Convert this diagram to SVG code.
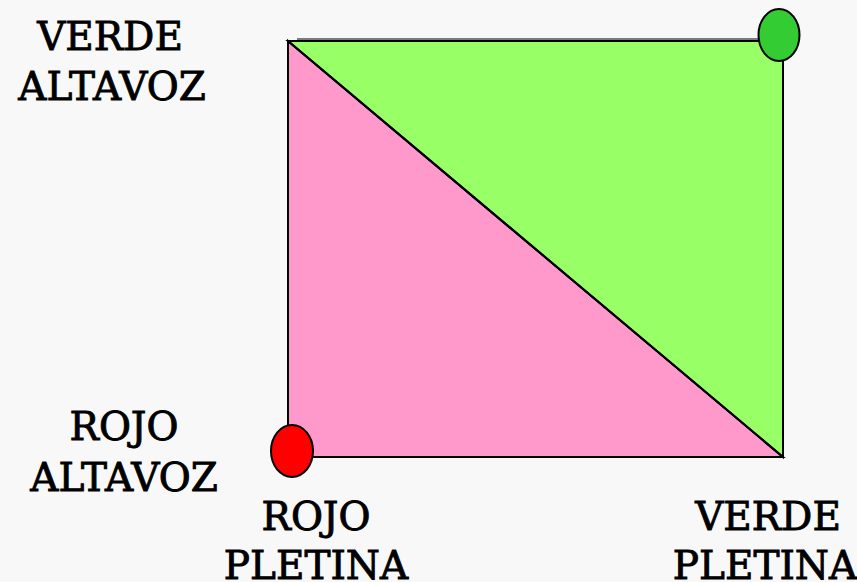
<svg xmlns="http://www.w3.org/2000/svg" width="857" height="582" viewBox="0 0 857 582">
<style>
.lbl{font-family:"DejaVu Serif","Liberation Serif",serif;font-size:39px;fill:#000;stroke:#000;stroke-width:0.9;text-anchor:middle}
.ln{stroke:#000;stroke-width:2;stroke-linejoin:miter}
</style>
<rect width="857" height="582" fill="#f8f8f8"/>
<g id="pink-triangle"><polygon class="ln" points="288,41 288,457 783,457" fill="#ff99cc"/></g>
<g id="green-triangle"><polygon class="ln" points="288,41 783,41 783,457" fill="#99ff66"/>
<line stroke="#000" stroke-width="1.2" x1="297" y1="39" x2="783" y2="39"/></g>
<g id="connectors"><line class="ln" x1="288" y1="41" x2="783" y2="457"/></g>
<g id="green-dot"><ellipse cx="779" cy="35" rx="20.5" ry="26" fill="#33cc33" class="ln"/></g>
<g id="red-dot"><ellipse cx="292" cy="451" rx="21" ry="26" fill="#ff0000" class="ln"/></g>
<g id="verde-altavoz"><text class="lbl" x="110" y="50">VERDE</text><text class="lbl" x="112" y="100">ALTAVOZ</text></g>
<g id="rojo-altavoz"><text class="lbl" x="124" y="440">ROJO</text><text class="lbl" x="124" y="491">ALTAVOZ</text></g>
<g id="rojo-pletina"><text class="lbl" x="316" y="530">ROJO</text><text class="lbl" x="316" y="579">PLETINA</text></g>
<g id="verde-pletina"><text class="lbl" x="768" y="530">VERDE</text><text class="lbl" x="765" y="579">PLETINA</text></g>
</svg>
